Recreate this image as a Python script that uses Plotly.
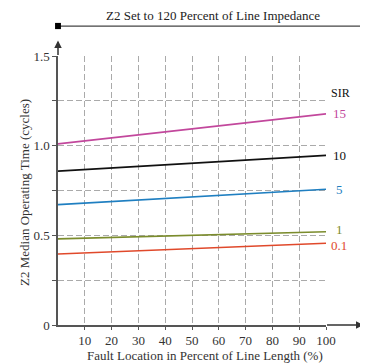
import plotly.graph_objects as go

fault_location = [0, 100]
sir_labels = ["15", "10", "5", "1", "0.1"]
sir_values = {
    "15": [1.01, 1.177],
    "10": [0.858, 0.946],
    "5": [0.671, 0.757],
    "1": [0.48, 0.52],
    "0.1": [0.396, 0.456],
}
sir_colors = {
    "15": "#c2479c",
    "10": "#111111",
    "5": "#1f7fc1",
    "1": "#7b8c2c",
    "0.1": "#e0492b",
}
label_yshift = {"15": 0, "10": 0, "5": 0, "1": 2, "0.1": -2}
x_ticks = [10, 20, 30, 40, 50, 60, 70, 80, 90, 100]
y_ticks = [0, 0.25, 0.5, 0.75, 1.0, 1.25, 1.5]
y_ticktext = ["0", "", "0.5", "", "1.0", "", "1.5"]

FONT = "Liberation Serif"
AX = "#555555"
TXT = "#333333"

fig = go.Figure()
for name in sir_labels:
    fig.add_trace(go.Scatter(
        x=fault_location, y=sir_values[name], mode="lines",
        line=dict(color=sir_colors[name], width=1.6),
        showlegend=False, hoverinfo="skip", cliponaxis=False,
    ))
    fig.add_annotation(
        x=fault_location[-1], y=sir_values[name][-1], xref="x", yref="y",
        text=name, showarrow=False, xanchor="center", xshift=13,
        yshift=label_yshift[name],
        font=dict(family=FONT, size=13, color=sir_colors[name]),
    )

fig.add_annotation(x=1.0, y=0.862, xref="paper", yref="paper", text="SIR", showarrow=False,
                   xanchor="left", yanchor="middle", xshift=3,
                   font=dict(family=FONT, size=12, color="#111111"))

# Title with rule and square marker
fig.add_shape(type="line", xref="paper", yref="paper", x0=0, x1=1.16, y0=1.111, y1=1.111,
              line=dict(color="#444444", width=1.3))
fig.add_shape(type="rect", xref="paper", yref="paper", x0=-0.011, x1=0.011, y0=1.100, y1=1.123,
              fillcolor="#000000", line=dict(width=0))
fig.add_annotation(x=0.578, y=1.152, xref="paper", yref="paper",
                   text="Z2 Set to 120 Percent of Line Impedance",
                   showarrow=False, yanchor="middle", font=dict(family=FONT, size=13, color="#222222"))

# Axis titles
fig.add_annotation(x=0.55, y=-0.112, xref="paper", yref="paper",
                   text="Fault Location in Percent of Line Length (%)",
                   showarrow=False, yanchor="middle", font=dict(family=FONT, size=13, color=TXT))
fig.add_annotation(x=-0.123, y=0.491, xref="paper", yref="paper",
                   text="Z2 Median Operating Time (cycles)", textangle=-90,
                   showarrow=False, xanchor="center", yanchor="middle",
                   font=dict(family=FONT, size=13, color=TXT))

# Axis extensions with arrows
fig.add_annotation(x=0, y=1.058, xref="paper", yref="paper", ax=0, ay=16, showarrow=True,
                   arrowhead=2, arrowsize=1, arrowwidth=1.5, arrowcolor="#333333", text="")
fig.add_annotation(x=1.14, y=0, xref="paper", yref="paper", ax=-38, ay=0, showarrow=True,
                   arrowhead=2, arrowsize=1, arrowwidth=1.5, arrowcolor="#333333", text="")

fig.update_layout(
    width=360, height=355,
    margin=dict(l=50, r=42, t=48, b=38),
    paper_bgcolor="white", plot_bgcolor="white",
    font=dict(family=FONT, size=13, color=TXT),
    xaxis=dict(range=[0, 100], tickvals=x_ticks, showgrid=True, gridcolor="#aaaaaa",
               griddash="6px,3px", gridwidth=1, showline=True, linecolor=AX, linewidth=1.5,
               ticks="outside", ticklen=3, tickcolor=AX, zeroline=False, automargin=False,
               tickfont=dict(family=FONT, size=13, color=TXT)),
    yaxis=dict(range=[0, 1.5], tickvals=y_ticks, ticktext=y_ticktext, showgrid=True,
               gridcolor="#aaaaaa", griddash="6px,3px", gridwidth=1, showline=True,
               linecolor=AX, linewidth=1.5, ticks="outside", ticklen=4, tickcolor=AX,
               zeroline=False, automargin=False, tickfont=dict(family=FONT, size=13, color=TXT)),
)

fig.write_html("out.html")
